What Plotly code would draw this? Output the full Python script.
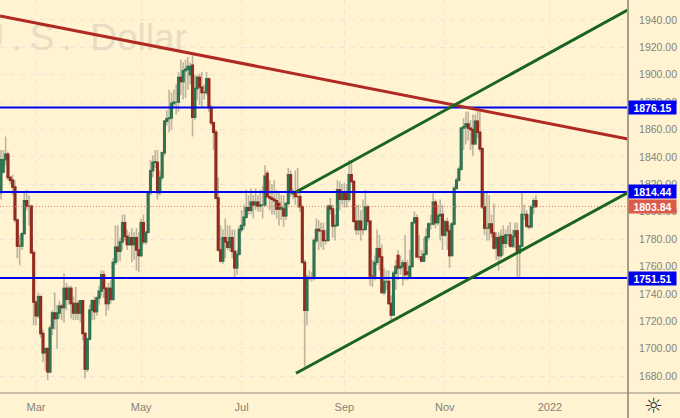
import pandas as pd
import plotly.graph_objects as go

open_ = [1814,1829,1838,1842,1825,1823,1818,1794,1775,1775,1784,1808,1804,1804,1770,1734,1724,1738,1711,1697,
1700,1683,1715,1726,1722,1726,1731,1730,1744,1736,1744,1733,1726,1733,1726,1735,1711,1685,1707,1728,
1735,1727,1737,1742,1754,1744,1733,1744,1736,1763,1774,1771,1778,1792,1782,1776,1781,1776,1781,1772,
1768,1792,1778,1785,1814,1830,1836,1836,1814,1825,1843,1866,1868,1868.5,1879,1880,1880,1898,1895,1903,
1904,1900,1907,1869,1890,1898,1891,1887,1887,1897,1876,1865,1858,1810,1772,1764,1781,1778,1774,1781,
1771,1759,1769,1787,1790,1796,1803,1801,1807,1805,1807,1804,1805,1805,1828,1811,1810,1809,1808,1806,
1802,1802,1797,1806,1827,1813,1814,1811,1811,1803.5,1763,1728,1752,1752,1752,1779,1787,1786,1786,1779,
1779,1804,1802,1789.5,1790,1816,1809,1814,1813,1809,1827,1822,1793,1787,1793,1787,1787,1803.5,1793,1753,
1753,1763,1773,1767,1741,1749,1749,1733,1724.5,1755,1768,1759,1760,1762.5,1756,1752,1760,1792,1795.5,1767,
1767,1764,1769,1781.5,1791,1791,1807,1792,1797,1798,1783,1792.5,1786,1768,1791,1817,1823,1831,1861,1862,
1864,1861,1860,1849.5,1866,1858,1846,1803.5,1788,1788,1791,1784.5,1773.5,1781,1768,1782,1777,1783,1783,1775,
1782,1786,1770,1775,1798,1798,1789.5,1789,1803.5,1808]
close = [1838,1838,1842,1825,1823,1818,1794,1775,1775,1784,1808,1804,1804,1770,1734,1724,1738,1711,1697,1700,
1683,1715,1726,1722,1726,1731,1730,1744,1736,1744,1733,1726,1733,1726,1735,1711,1685,1707,1728,1735,
1727,1737,1742,1754,1744,1733,1744,1736,1763,1774,1771,1778,1792,1782,1776,1781,1776,1781,1772,1768,
1792,1778,1785,1814,1830,1836,1836.5,1814,1825,1843,1866,1868,1868.5,1879,1880,1880,1898,1895,1903,1904,
1906,1906,1869,1890,1898,1891,1887,1887,1897,1876,1865,1858,1810,1772,1764,1781,1778,1774,1781,1771,
1759,1769,1787,1790,1796,1803,1801,1807,1805,1807,1804,1805,1805,1826,1811,1810,1809,1808,1802,1802,
1803,1797,1806,1827,1814,1814,1811,1811,1803.5,1763,1728,1752,1752,1752,1779,1787,1786,1786,1779,1779,
1804,1802,1789.5,1790,1816,1809,1814,1809,1809,1827,1822,1793,1787,1793,1787,1787,1803.5,1793,1753,1753,
1763,1773,1767,1741,1749,1749,1733,1724.5,1755,1760,1759,1760,1762.5,1754,1754.5,1760,1792,1795.5,1767,1767,
1764,1769,1781.5,1791,1791,1807,1792,1797,1798,1783,1792.5,1786,1768,1791,1817,1823,1831,1861,1862,1864,
1861,1860,1849.5,1866,1858,1846,1803.5,1788,1788,1791,1784.5,1773.5,1781,1768,1782,1777,1783,1783,1775,1782,
1786,1770,1775,1798,1798,1789.5,1789,1803.5,1808,1803.84]
high = [1845,1845,1855,1844,1826,1827,1823,1795,1783,1785,1814,1816,1812,1805,1772,1735,1741,1739,1714,1701,
1701,1717,1728,1741,1732,1735,1733,1755,1748,1746,1746,1738,1745,1735,1735,1735,1712,1708,1732,1736,
1738,1738,1746,1757,1757,1745,1748,1750,1766,1790,1790,1781,1798,1798,1787,1785,1788,1785,1788,1785,
1795,1798,1785,1815,1838,1841,1845,1845,1830,1844,1867,1874,1889,1887,1889,1893,1902,1911,1909,1911,
1913,1909,1914,1900,1900,1901,1902,1893,1902,1898,1878,1865,1860,1825,1790,1787,1795,1790,1790,1787,
1787,1772,1790,1801,1805,1816,1812,1817,1812,1817,1812,1816,1819,1834,1830,1823,1820,1823,1816,1814,
1812,1812,1807,1832,1830,1817,1830,1832,1816,1805,1765,1754,1757,1756,1781,1795,1794,1792,1792,1787,
1805,1810,1805,1798,1823,1822,1820,1821,1820,1838,1836,1823,1805,1805,1801,1809,1816,1805,1794,1765,
1768,1787,1783,1776,1759,1757,1757,1739,1757,1765,1772,1768,1765,1783,1765,1772,1792.5,1800,1798,1783,
1772,1781,1788,1792.5,1798,1814,1809,1805,1809,1805,1794,1795.5,1790,1792.5,1819,1825,1833,1862,1868.5,1873,
1873,1867,1871,1871,1874,1873,1847,1814,1814,1812,1798,1806,1785,1785,1787,1790,1787,1790,1792.5,1787,
1792,1792,1776,1814,1805,1801,1798,1805,1810,1812]
low = [1809,1828,1834,1823,1820,1812,1792,1766,1761,1772,1784,1801,1790,1770,1717,1717,1722,1708,1690,1684,
1677,1682,1710,1714,1700,1722,1721,1719,1728,1732,1722,1721,1721,1721,1719,1706,1678,1683,1706,1721,
1721,1724,1732,1738,1737,1724,1728,1733,1735,1761,1763,1764,1772,1779,1772,1775,1763,1765,1757,1756,
1767,1776,1776,1784,1812,1825,1832,1809,1812,1823,1841,1863,1858,1860,1876,1871,1873,1885,1882,1883,
1889,1893,1855,1867,1882,1878,1876,1882,1885,1873,1863,1845,1809,1771,1763,1762,1766,1772,1771,1766,
1752,1754,1768,1785,1787,1795,1798,1798,1795,1801,1800,1800,1795,1804,1810,1801,1798,1798,1795,1790,
1794,1789,1794,1805,1811,1809,1805,1803,1800,1762,1687,1717,1750,1749,1750,1777,1772,1774,1772,1776,
1779,1798,1781,1779,1789,1801,1805,1803,1803,1807,1821,1792,1783,1783,1779,1783,1787,1790,1746,1745,
1750,1761,1757,1741,1739,1743,1732,1721,1724,1743,1750,1754,1746,1750,1750,1752,1759,1791,1766,1765,
1763,1763,1768,1779,1787,1790,1788,1790,1779,1772,1781.5,1772,1759,1768,1790,1816,1822,1830,1845,1849,
1852,1845,1841,1849,1854,1844,1802,1783,1779,1779,1781,1772,1765,1757,1766,1768,1773.5,1776,1773.5,1773.5,
1773.5,1752,1752,1774,1794,1788,1787,1788,1798,1803]

start_date = "2021-02-08"
tick_dates = ["2021-03-01", "2021-05-03", "2021-07-01", "2021-09-01", "2021-11-01", "2022-01-03"]
tick_text = ["Mar", "May", "Jul", "Sep", "Nov", "2022"]
price_ticks = list(range(1680, 1960, 20))

levels = [1876.15, 1814.44, 1751.51]
last_price = 1803.84

# trend lines: bar-number, price pairs
red_line = ([-0.4, 268.4], [1943, 1853])
green_upper = ([126.3, 268.4], [1814.4, 1947.4])
green_lower = ([126.3, 268.4], [1682, 1814])

BG = "#fff3d1"
GRID = "#ece6d6"
TXT = "#85837a"
AXIS = "#a3a08c"
XMIN, XMAX = -0.41, 268.4
YMIN, YMAX = 1667.6, 1954.6

calendar = pd.bdate_range(start_date, periods=300)
idx = list(range(len(close)))
tick_pos = [calendar.get_loc(pd.Timestamp(d)) for d in tick_dates]
body_top = [max(o, c) for o, c in zip(open_, close)]
body_bot = [min(o, c) for o, c in zip(open_, close)]

fig = go.Figure()
fig.add_trace(go.Scatter(x=[79.6], y=[1924.5], mode="text",
                         text=["U\u2009.\u2009S\u2009.\u2002Dollar"],
                         textposition="middle left",
                         textfont=dict(family="Liberation Sans", size=37, color="#e7ddc4"),
                         hoverinfo="skip", showlegend=False))
# wicks
wick = "rgba(95,95,85,0.42)"
fig.add_trace(go.Candlestick(x=idx, open=open_, high=high, low=low, close=close,
                             increasing=dict(line=dict(color=wick, width=1.6), fillcolor="rgba(0,0,0,0)"),
                             decreasing=dict(line=dict(color=wick, width=1.6), fillcolor="rgba(0,0,0,0)"),
                             whiskerwidth=0, hoverinfo="skip", showlegend=False))
# bodies
fig.add_trace(go.Candlestick(x=idx, open=open_, high=body_top, low=body_bot, close=close,
                             increasing=dict(line=dict(color="#2c7350", width=1.4), fillcolor="#4a9273"),
                             decreasing=dict(line=dict(color="#93291b", width=1.4), fillcolor="#c0352a"),
                             whiskerwidth=0, hoverinfo="skip", showlegend=False))

for lv in levels:
    fig.add_trace(go.Scatter(x=[XMIN, XMAX], y=[lv, lv], mode="lines",
                             line=dict(color="#0000f0", width=2), hoverinfo="skip", showlegend=False))
fig.add_trace(go.Scatter(x=[XMIN, XMAX], y=[last_price, last_price], mode="lines",
                         line=dict(color="#e07a68", width=1, dash="1px,2px"),
                         hoverinfo="skip", showlegend=False))
for (xs, ys), col in [(red_line, "#b02a22"), (green_upper, "#1a651f"), (green_lower, "#1a651f")]:
    fig.add_trace(go.Scatter(x=xs, y=ys, mode="lines", line=dict(color=col, width=3),
                             hoverinfo="skip", showlegend=False))

annots = []
for val, col in [(last_price, "#dc5a4a"), (levels[2], "#0000f0"), (levels[0], "#0000f0"), (levels[1], "#0000f0")]:
    annots.append(dict(x=1, xref="paper", y=val, yref="y", xanchor="left", yanchor="middle",
                       text=f"<b>{val:.2f}</b>", showarrow=False, bgcolor=col, width=47, height=13,
                       borderpad=0, xshift=0, font=dict(family="Liberation Sans", size=10.5, color="white")))
annots.append(dict(x=653 / 628, xref="paper", y=-12.5 / 393, yref="paper", xanchor="center", yanchor="middle",
                   text="\u263c", showarrow=False, font=dict(family="DejaVu Sans", size=21, color="#333333")))

shapes = [
    dict(type="line", xref="paper", yref="paper", x0=1, x1=1, y0=-25 / 393, y1=1,
         line=dict(color=AXIS, width=2), layer="above"),
    dict(type="line", xref="paper", yref="paper", x0=0, x1=680 / 628, y0=0, y1=0,
         line=dict(color="#8e8b7a", width=1), layer="above"),
]

fig.update_layout(
    width=680, height=418, margin=dict(l=0, r=52, t=0, b=25),
    paper_bgcolor=BG, plot_bgcolor=BG, showlegend=False,
    annotations=annots, shapes=shapes, boxgap=0.05,
    xaxis=dict(range=[XMIN, XMAX], rangeslider=dict(visible=False), tickmode="array",
               tickvals=tick_pos, ticktext=tick_text, showgrid=True, gridcolor=GRID, griddash="5px,5px",
               gridwidth=1, zeroline=False, ticks="outside", ticklen=4, tickcolor=BG,
               tickfont=dict(family="Liberation Sans", size=11, color=TXT)),
    yaxis=dict(range=[YMIN, YMAX], side="right", tickmode="array", tickvals=price_ticks,
               ticktext=[f"{p:.2f}" for p in price_ticks], showgrid=True, gridcolor=GRID,
               griddash="5px,5px", gridwidth=1, zeroline=False, ticks="outside", ticklen=8,
               tickcolor=BG, tickfont=dict(family="Liberation Sans", size=10.5, color=TXT)),
)

fig.write_html("out.html", post_script="document.body.style.margin='0';",
               config=dict(displayModeBar=False))
